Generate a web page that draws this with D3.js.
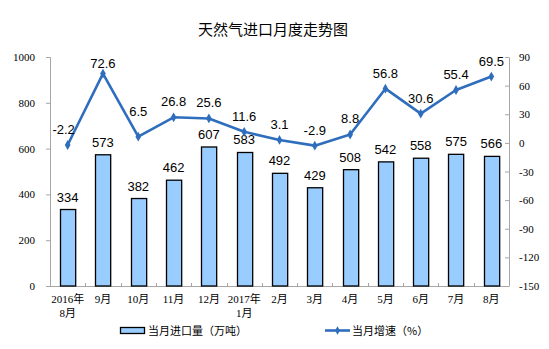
<!DOCTYPE html>
<html>
<head>
<meta charset="utf-8">
<script src="https://cdn.jsdelivr.net/npm/d3@7"></script>
<style>
  html, body { margin: 0; padding: 0; background: #fff; }
  svg { display: block; }
</style>
</head>
<body>
<script>
const title = "天然气进口月度走势图";
const categories = ["2016年\n8月", "9月", "10月", "11月", "12月", "2017年\n1月", "2月", "3月", "4月", "5月", "6月", "7月", "8月"];
const importVolume = [334, 573, 382, 462, 607, 583, 492, 429, 508, 542, 558, 575, 566];
const growthRate = [-2.2, 72.6, 6.5, 26.8, 25.6, 11.6, 3.1, -2.9, 8.8, 56.8, 30.6, 55.4, 69.5];
const leftTicks = [0, 200, 400, 600, 800, 1000];
const rightTicks = [-150, -120, -90, -60, -30, 0, 30, 60, 90];
const legendBar = "当月进口量（万吨）";
const legendLine = "当月增速（%）";

(function () {
const W = 549, H = 349;
const pL = 50, pR = 509, pT = 57, pB = 286;
const serif = "'Liberation Serif','Times New Roman','Noto Sans CJK SC',serif";
const sans = "'Liberation Sans',Arial,'Noto Sans CJK SC',sans-serif";
const cjk = "'Noto Sans CJK SC',sans-serif";
const axisColor = "#a6a6a6";
const lineColor = "#2f6ebd";
const barFill = "#99ccff";
const plain = d => String(d);
const oneDec = d => d.toFixed(1);

const svg = d3.select("body").append("svg").attr("width", W).attr("height", H);

const x = d3.scaleBand().domain(categories).range([pL, pR]).paddingInner(0.57).paddingOuter(0.285);
const yL = d3.scaleLinear().domain([0, 1000]).range([pB, pT]);
const yR = d3.scaleLinear().domain([-150, 90]).range([pB, pT]);

// title
svg.append("text").attr("x", 273).attr("y", 35).attr("text-anchor", "middle")
  .attr("font-family", cjk).attr("font-size", 15).attr("fill", "#000").text(title);

// left axis
const gL = svg.append("g").attr("transform", `translate(${pL},0)`)
  .call(d3.axisLeft(yL).tickValues(leftTicks).tickSize(4).tickPadding(11).tickFormat(plain));
gL.select(".domain").attr("stroke", axisColor);
gL.selectAll(".tick line").attr("stroke", axisColor);
gL.selectAll(".tick text").attr("font-family", serif).attr("font-size", 11).attr("fill", "#000");

// right axis (ticks pointing inward)
const gR = svg.append("g").attr("transform", `translate(${pR},0)`)
  .call(d3.axisRight(yR).tickValues(rightTicks).tickSizeInner(-4).tickSizeOuter(0).tickPadding(10).tickFormat(plain));
gR.select(".domain").attr("stroke", axisColor);
gR.selectAll(".tick line").attr("stroke", axisColor);
gR.selectAll(".tick text").attr("font-family", serif).attr("font-size", 11).attr("fill", "#000");

// bottom axis
svg.append("line").attr("x1", pL).attr("x2", pR).attr("y1", pB + 0.5).attr("y2", pB + 0.5).attr("stroke", axisColor);
const step = x.step();
categories.forEach((c, i) => {
  if (i === 0) return;
  const bx = Math.round(x(c) + x.bandwidth() / 2 - step / 2) + 0.5;
  svg.append("line").attr("x1", bx).attr("x2", bx).attr("y1", pB).attr("y2", pB - 3).attr("stroke", axisColor);
});

// category labels
categories.forEach((c) => {
  const t = svg.append("text").attr("x", x(c) + x.bandwidth() / 2).attr("y", 303)
    .attr("text-anchor", "middle").attr("font-family", serif).attr("font-size", 11).attr("fill", "#000");
  c.split("\n").forEach((ln, j) => {
    t.append("tspan").attr("x", x(c) + x.bandwidth() / 2).attr("dy", j === 0 ? 0 : 13.5).text(ln);
  });
});

// bars
svg.append("g").selectAll("rect").data(importVolume).join("rect")
  .attr("x", (d, i) => Math.round(x(categories[i])) + 0.5)
  .attr("y", d => yL(d))
  .attr("width", x.bandwidth())
  .attr("height", d => pB - yL(d))
  .attr("fill", barFill).attr("stroke", "#000").attr("stroke-width", 1.3);

// bar labels
svg.append("g").selectAll("text").data(importVolume).join("text")
  .attr("x", (d, i) => x(categories[i]) + x.bandwidth() / 2)
  .attr("y", d => yL(d) - 8)
  .attr("text-anchor", "middle").attr("font-family", sans).attr("font-size", 13).attr("fill", "#000")
  .text(d => d);

// line
const cx = i => x(categories[i]) + x.bandwidth() / 2;
const line = d3.line().x((d, i) => cx(i)).y(d => yR(d));
svg.append("path").datum(growthRate).attr("d", line)
  .attr("fill", "none").attr("stroke", lineColor).attr("stroke-width", 2.6).attr("stroke-linejoin", "round");
svg.append("g").selectAll("path").data(growthRate).join("path")
  .attr("d", d3.symbol(d3.symbolDiamond, 28))
  .attr("transform", (d, i) => `translate(${cx(i)},${yR(d)})`)
  .attr("fill", lineColor);

// line labels
svg.append("g").selectAll("text").data(growthRate).join("text")
  .attr("x", (d, i) => cx(i) - (i === 0 ? 4 : 0))
  .attr("y", (d, i) => yR(d) - (i === 2 ? 21 : (i === 1 ? 6 : 11)))
  .attr("text-anchor", "middle").attr("font-family", sans).attr("font-size", 13).attr("fill", "#000")
  .text(oneDec);

// legend
svg.append("rect").attr("x", 120.5).attr("y", 327.5).attr("width", 24).attr("height", 6)
  .attr("fill", barFill).attr("stroke", "#000").attr("stroke-width", 1.3);
svg.append("text").attr("x", 148).attr("y", 335).attr("font-family", cjk).attr("font-size", 11).attr("fill", "#000").text(legendBar);
svg.append("line").attr("x1", 325).attr("x2", 350).attr("y1", 330.5).attr("y2", 330.5).attr("stroke", lineColor).attr("stroke-width", 2.6);
svg.append("path").attr("d", d3.symbol(d3.symbolDiamond, 20)).attr("transform", "translate(337.5,330.5)").attr("fill", lineColor);
svg.append("text").attr("x", 352).attr("y", 335).attr("font-family", cjk).attr("font-size", 11).attr("fill", "#000").text(legendLine);
})();
</script>
</body>
</html>
